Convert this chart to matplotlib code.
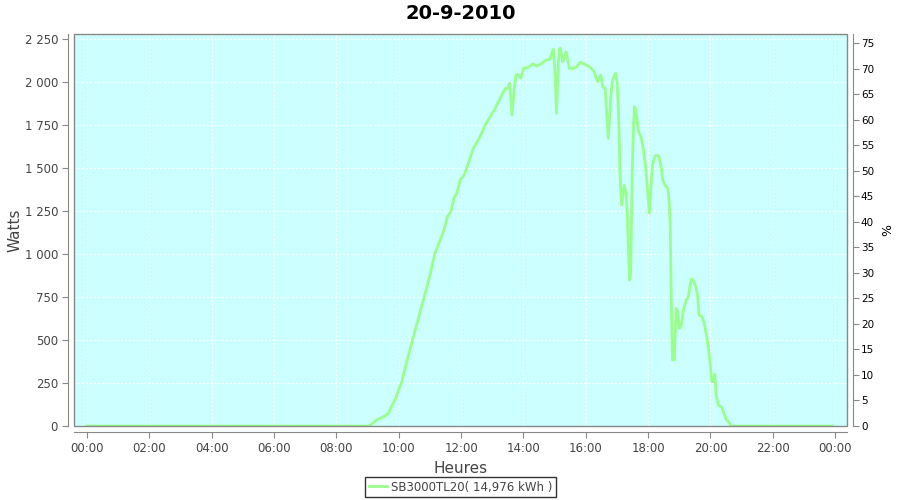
import matplotlib
matplotlib.use("Agg")
import matplotlib.pyplot as plt
from matplotlib.ticker import FuncFormatter, MultipleLocator
from matplotlib.patches import Rectangle

# production du 20-9-2010 (heures decimales, watts)
heures = [0.0, 9.05, 9.29, 9.51, 9.67, 9.77, 9.88, 9.99, 10.10, 10.20, 10.34,
          10.47, 10.60, 10.74, 10.88, 11.00, 11.16, 11.33, 11.43, 11.56, 11.67,
          11.77, 11.86, 11.97, 12.10, 12.23, 12.39, 12.55, 12.66, 12.77, 12.93,
          13.06, 13.20, 13.36, 13.43, 13.50, 13.55, 13.59, 13.63, 13.70, 13.76,
          13.84, 13.91, 14.00, 14.16, 14.30, 14.43, 14.59, 14.73, 14.85, 14.91,
          14.96, 15.01, 15.06, 15.12, 15.15, 15.18, 15.26, 15.37, 15.47, 15.60,
          15.71, 15.82, 15.98, 16.14, 16.27, 16.37, 16.48, 16.54, 16.62, 16.67,
          16.72, 16.80, 16.86, 16.95, 17.01, 17.06, 17.10, 17.15, 17.23, 17.29,
          17.33, 17.40, 17.44, 17.49, 17.53, 17.56, 17.61, 17.69, 17.77, 17.85,
          17.92, 17.98, 18.04, 18.09, 18.14, 18.22, 18.33, 18.40, 18.47, 18.54,
          18.63, 18.67, 18.71, 18.74, 18.78, 18.84, 18.90, 18.95, 19.00, 19.06,
          19.13, 19.22, 19.29, 19.38, 19.43, 19.53, 19.59, 19.63, 19.72, 19.79,
          19.88, 19.94, 19.99, 20.04, 20.09, 20.14, 20.18, 20.25, 20.36, 20.43,
          20.50, 20.61, 20.66, 23.92]
watts = [0, 0, 35, 54, 74, 116, 151, 209, 258, 335, 432,
         519, 606, 703, 791, 878, 1004, 1081, 1130, 1217, 1246,
         1324, 1353, 1430, 1459, 1527, 1614, 1663, 1702, 1750, 1798,
         1837, 1886, 1944, 1963, 1963, 1992, 1915, 1808, 1953, 2041,
         2041, 2021, 2079, 2085, 2105, 2093, 2108, 2128, 2132, 2167,
         2190, 2070, 1818, 2108, 2190, 2196, 2118, 2176, 2079, 2079,
         2089, 2114, 2102, 2085, 2060, 2002, 2041, 1973, 1963, 1818,
         1673, 1915, 2012, 2050, 1992, 1760, 1450, 1285, 1401, 1353,
         1237, 849, 888, 1488, 1740, 1856, 1837, 1711, 1682, 1605,
         1508, 1372, 1237, 1391, 1517, 1572, 1572, 1527, 1430, 1401,
         1382, 1314, 1159, 773, 384, 384, 684, 665, 568, 581,
         674, 733, 752, 853, 853, 810, 752, 645, 636, 606,
         519, 442, 364, 258, 258, 302, 180, 122, 109, 74,
         39, 16, 0, 0]

titre = "20-9-2010"
legende = "SB3000TL20( 14,976 kWh )"
x_ticks = list(range(0, 25, 2))
x_labels = ["%02d:00" % (h % 24) for h in x_ticks]

fond = "#ccffff"
vert = "#99ff8c"
gris = "#444444"

fig = plt.figure(figsize=(9, 5), dpi=100)
ax = fig.add_axes([74/900, 1 - 426/500, 773/900, 392/500])
ax.set_facecolor(fond)

ax.plot(heures, watts, color=vert, lw=2, label=legende, zorder=3)

ax.set_xlim(-0.42, 24.38)
ax.set_ylim(0, 2279)
ax.set_xticks(x_ticks)
ax.set_xticklabels(x_labels)
ax.yaxis.set_major_locator(MultipleLocator(250))
ax.yaxis.set_major_formatter(FuncFormatter(lambda v, p: "{:,}".format(int(v)).replace(",", " ")))
ax.grid(True, color="white", linestyle=(0, (2, 2)), lw=0.7)

for s in ["left", "bottom", "right"]:
    ax.spines[s].set_position(("outward", 4))
    ax.spines[s].set_color("#888888")
ax.spines["top"].set_visible(False)
ax.spines["right"].set_visible(False)
ax.add_patch(Rectangle((0, 0), 1, 1, transform=ax.transAxes, fill=False,
                       edgecolor="#888888", lw=1, zorder=4, clip_on=False))
ax.tick_params(colors="#888888", labelcolor=gris, labelsize=8.5, length=4)

ax2 = ax.twinx()
ax2.set_ylim(0, 76.8)
ax2.yaxis.set_major_locator(MultipleLocator(5))
for s in ["left", "bottom", "top"]:
    ax2.spines[s].set_visible(False)
ax2.spines["right"].set_position(("outward", 4))
ax2.spines["right"].set_color("#888888")
ax2.tick_params(colors="#888888", labelcolor="black", labelsize=7.5, length=4, pad=2)
ax2.set_ylabel("%", rotation=270, fontsize=9, va="center")
ax2.yaxis.set_label_coords(1.047, 0.5)

ax.set_title(titre, fontsize=14, fontweight="bold", pad=11)
ax.set_ylabel("Watts", fontsize=11, color=gris)
ax.yaxis.set_label_coords(-0.067, 0.5)
ax.set_xlabel("Heures", fontsize=11, color=gris)
ax.xaxis.set_label_coords(0.5, -0.089)

leg = ax.legend(loc="upper center", bbox_to_anchor=(0.5, -0.13), fontsize=8.5,
                frameon=True, fancybox=False, edgecolor="black", handlelength=1.6,
                handletextpad=0.3, borderpad=0.3, borderaxespad=0)
leg.get_frame().set_linewidth(1)
for t in leg.get_texts():
    t.set_color(gris)

fig.savefig("out.png", dpi=100, facecolor="white")
